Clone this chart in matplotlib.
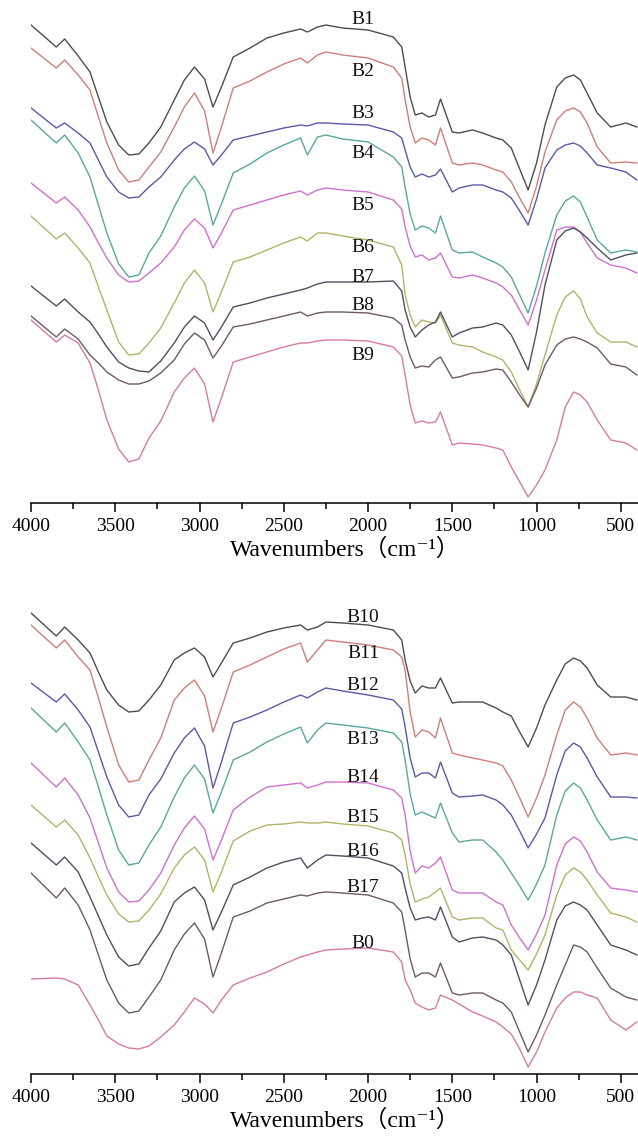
import numpy as np
import matplotlib.pyplot as plt
from matplotlib.ticker import MultipleLocator

# FTIR spectra, transmittance in arbitrary units (offset per sample)
wavenumber = [4000, 3850, 3800, 3720, 3650, 3600, 3550, 3480, 3420, 3360,
              3300, 3230, 3150, 3090, 3030, 2970, 2920, 2870, 2800, 2700,
              2600, 2500, 2400, 2360, 2300, 2250, 2150, 2000, 1850, 1800,
              1780, 1750, 1720, 1680, 1640, 1600, 1570, 1500, 1460, 1380,
              1320, 1240, 1200, 1150, 1100, 1050, 1000, 950, 880, 830,
              780, 740, 700, 640, 560, 470, 405]

# top panel
B1 = [475, 453, 461, 444, 428, 403, 378, 355, 345, 346, 357, 373, 400, 420, 433, 421, 393, 413, 443, 452,
      462, 467, 471, 468, 473, 475, 472, 470, 463, 453, 433, 403, 385, 387, 383, 385, 401, 368, 367, 370,
      367, 362, 360, 352, 331, 310, 337, 375, 413, 422, 425, 420, 407, 387, 373, 377, 373]
B2 = [452, 432, 440, 425, 410, 383, 357, 330, 318, 320, 333, 348, 373, 393, 407, 389, 347, 373, 412, 419,
      428, 436, 442, 437, 445, 448, 445, 442, 433, 422, 400, 373, 357, 362, 360, 355, 372, 337, 335, 337,
      335, 330, 328, 318, 302, 287, 314, 348, 380, 389, 392, 388, 377, 353, 337, 338, 337]
B3 = [392, 372, 377, 367, 357, 340, 323, 308, 302, 303, 313, 323, 340, 351, 358, 351, 335, 345, 360, 364,
      368, 372, 375, 374, 377, 377, 376, 375, 368, 362, 350, 333, 323, 326, 323, 325, 331, 308, 312, 315,
      315, 310, 308, 302, 289, 275, 301, 332, 350, 355, 357, 354, 347, 335, 332, 328, 320]
B4 = [380, 357, 365, 347, 323, 295, 267, 236, 223, 225, 247, 264, 293, 312, 324, 309, 275, 296, 327, 336,
      347, 355, 362, 345, 363, 365, 361, 358, 343, 333, 313, 286, 270, 274, 272, 267, 284, 250, 247, 248,
      243, 237, 233, 223, 205, 187, 214, 247, 285, 299, 304, 298, 283, 260, 247, 250, 248]
B5 = [317, 297, 303, 290, 273, 257, 242, 225, 218, 219, 227, 237, 253, 270, 281, 272, 252, 267, 290, 295,
      300, 305, 309, 305, 310, 312, 310, 308, 300, 291, 273, 254, 243, 245, 240, 242, 247, 223, 222, 225,
      222, 217, 213, 205, 190, 175, 200, 230, 270, 273, 273, 268, 257, 242, 235, 232, 227]
B6 = [284, 261, 267, 252, 237, 213, 190, 158, 145, 146, 157, 172, 197, 217, 230, 217, 188, 208, 238, 243,
      250, 257, 263, 259, 267, 267, 264, 260, 253, 235, 205, 185, 173, 180, 178, 177, 185, 157, 155, 153,
      148, 143, 140, 128, 110, 93, 116, 145, 185, 203, 209, 201, 183, 167, 158, 158, 153]
B7 = [214, 194, 201, 188, 178, 166, 153, 138, 132, 129, 128, 139, 157, 173, 184, 177, 160, 173, 193, 197,
      202, 206, 210, 212, 216, 218, 218, 218, 219, 209, 190, 173, 163, 170, 175, 178, 188, 163, 167, 172,
      173, 177, 175, 165, 148, 130, 168, 215, 260, 269, 272, 268, 262, 252, 240, 245, 247]
B8 = [184, 163, 171, 161, 145, 137, 128, 120, 116, 116, 119, 127, 140, 156, 167, 160, 142, 154, 173, 176,
      180, 184, 188, 184, 187, 188, 188, 187, 182, 175, 160, 143, 132, 134, 133, 140, 143, 122, 123, 127,
      128, 131, 130, 118, 105, 93, 112, 135, 155, 161, 163, 161, 158, 152, 136, 133, 125]
B9 = [180, 158, 165, 157, 137, 110, 80, 51, 38, 41, 62, 79, 108, 122, 132, 116, 78, 102, 138, 143,
      148, 153, 157, 157, 159, 160, 160, 159, 153, 144, 125, 95, 77, 79, 77, 78, 88, 55, 57, 56,
      55, 52, 50, 33, 18, 3, 15, 30, 60, 93, 108, 105, 98, 80, 60, 57, 50]

# bottom panel
B10 = [457, 434, 443, 430, 417, 398, 380, 365, 358, 359, 370, 385, 410, 417, 422, 413, 393, 407, 427, 432,
       438, 442, 445, 440, 443, 448, 447, 445, 440, 430, 410, 389, 377, 384, 382, 382, 392, 367, 368, 368,
       368, 362, 358, 354, 338, 323, 342, 365, 390, 406, 412, 409, 402, 385, 373, 373, 370]
B11 = [445, 422, 430, 413, 400, 372, 343, 305, 288, 290, 310, 332, 370, 382, 390, 374, 338, 362, 398, 405,
       413, 421, 427, 408, 420, 430, 428, 425, 420, 413, 400, 358, 333, 340, 338, 332, 352, 317, 315, 312,
       310, 307, 304, 290, 272, 253, 272, 295, 335, 360, 368, 363, 352, 332, 315, 317, 315]
B12 = [387, 368, 376, 360, 343, 318, 293, 265, 253, 255, 275, 291, 317, 332, 342, 324, 282, 308, 347, 353,
       360, 368, 375, 372, 378, 382, 379, 375, 370, 361, 343, 312, 293, 297, 297, 292, 308, 277, 273, 274,
       275, 270, 265, 255, 239, 222, 236, 252, 295, 319, 327, 323, 312, 293, 273, 273, 272]
B13 = [362, 338, 347, 328, 310, 283, 255, 220, 205, 207, 225, 243, 273, 292, 305, 291, 257, 278, 310, 318,
       328, 336, 343, 327, 340, 347, 345, 342, 337, 328, 310, 276, 255, 258, 255, 252, 267, 237, 228, 230,
       230, 218, 210, 197, 184, 170, 186, 205, 255, 279, 287, 282, 270, 250, 230, 233, 230]
B14 = [307, 283, 292, 275, 252, 227, 202, 178, 168, 169, 180, 197, 225, 242, 254, 241, 210, 230, 260, 273,
       283, 285, 287, 282, 285, 288, 288, 287, 280, 272, 255, 219, 197, 204, 202, 207, 213, 180, 177, 177,
       177, 168, 165, 145, 132, 120, 136, 155, 205, 226, 233, 229, 218, 198, 182, 180, 178]
B15 = [265, 243, 250, 235, 212, 193, 175, 156, 148, 149, 160, 176, 202, 215, 223, 210, 178, 198, 229, 239,
       245, 246, 248, 247, 247, 248, 246, 244, 237, 230, 215, 186, 168, 171, 173, 178, 182, 153, 150, 152,
       152, 142, 140, 120, 110, 100, 116, 135, 175, 195, 202, 198, 190, 175, 157, 153, 148]
B16 = [227, 205, 213, 198, 173, 154, 135, 113, 104, 106, 122, 139, 168, 177, 183, 170, 140, 158, 185, 193,
       202, 208, 212, 202, 210, 215, 214, 212, 204, 197, 182, 162, 150, 152, 153, 150, 163, 133, 128, 132,
       133, 130, 125, 115, 90, 65, 85, 110, 150, 164, 168, 165, 160, 145, 125, 120, 115]
B17 = [197, 172, 182, 165, 140, 115, 90, 67, 57, 59, 73, 90, 120, 136, 147, 131, 93, 117, 153, 159,
       167, 171, 175, 174, 177, 178, 177, 175, 167, 158, 140, 111, 93, 97, 97, 93, 107, 77, 75, 77,
       77, 70, 67, 58, 38, 18, 35, 55, 85, 105, 125, 123, 118, 102, 82, 73, 70]
B0 = [91, 92, 91, 85, 65, 50, 34, 26, 22, 21, 24, 33, 45, 58, 72, 66, 57, 70, 85, 92,
      98, 106, 113, 115, 118, 120, 121, 122, 118, 108, 90, 80, 67, 63, 60, 62, 75, 70, 66, 58,
      54, 48, 43, 36, 21, 3, 18, 38, 62, 72, 78, 78, 75, 72, 50, 40, 48]

top_names = ["B1", "B2", "B3", "B4", "B5", "B6", "B7", "B8", "B9"]
top_series = [B1, B2, B3, B4, B5, B6, B7, B8, B9]
top_label_y = [480, 428, 387, 347, 295, 253, 222, 195, 145]

bot_names = ["B10", "B11", "B12", "B13", "B14", "B15", "B16", "B17", "B0"]
bot_series = [B10, B11, B12, B13, B14, B15, B16, B17, B0]
bot_label_y = [453, 416, 385, 331, 292, 253, 219, 182, 126]

colors = ["#4d4d4d", "#cf7f77", "#5a5aa8", "#5aa89a", "#d070d0",
          "#b3b36a", "#4f5060", "#6e5a64", "#d77aa6"]

serif = ["Liberation Serif", "DejaVu Serif", "Noto Sans CJK SC"]
plt.rcParams["font.family"] = serif

fig = plt.figure(figsize=(6.38, 11.38), dpi=100)
ax_top = fig.add_axes([31 / 638, 635 / 1138, 607 / 638, 503 / 1138])
ax_bot = fig.add_axes([31 / 638, 64 / 1138, 607 / 638, 504 / 1138])

for ax, names, series, label_y, ylo in [
        (ax_top, top_names, top_series, top_label_y, -3),
        (ax_bot, bot_names, bot_series, bot_label_y, -4)]:
    for name, vals, ly, c in zip(names, series, label_y, colors):
        ax.plot(wavenumber, vals, color=c, lw=1.0, solid_joinstyle="round")
        ax.text(2030, ly, name, ha="center", va="center", fontsize=14, color="#111111")
    ax.set_xlim(4000, 398)
    ax.set_ylim(ylo, 500)
    for s in ["left", "right", "top"]:
        ax.spines[s].set_visible(False)
    ax.spines["bottom"].set_linewidth(1.1)
    ax.set_yticks([])
    ax.xaxis.set_major_locator(MultipleLocator(500))
    ax.xaxis.set_minor_locator(MultipleLocator(250))
    ax.tick_params(axis="x", which="major", direction="out", length=6.5, width=1.1,
                   labelsize=14, pad=4)
    ax.tick_params(axis="x", which="minor", direction="out", length=4, width=1.1)
    ax.set_xlabel("Wavenumbers（cm⁻¹）", fontsize=17, labelpad=3, x=0.518)

fig.savefig("out.png", dpi=100)
